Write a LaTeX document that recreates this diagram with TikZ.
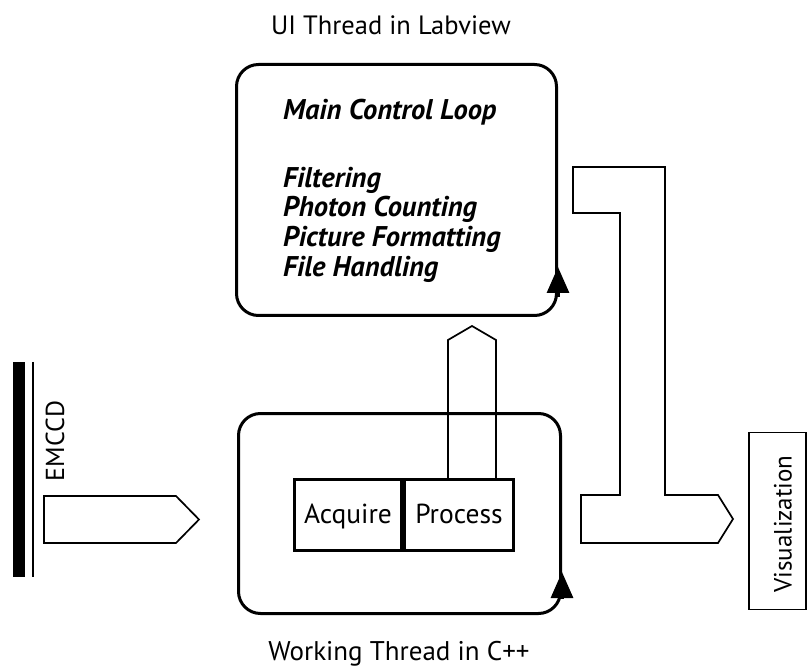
\documentclass[tikz,border=0pt]{standalone}
\usepackage{fontspec}
\setmainfont{PT Sans}
\usetikzlibrary{arrows.meta,calc}
\begin{document}
\begin{tikzpicture}[x=1pt,y=-1pt,
  txt/.style={inner sep=0pt,font=\fontsize{26}{30}\selectfont},
  itl/.style={inner sep=0pt,anchor=base west,font=\fontsize{28.5}{32}\selectfont\bfseries\itshape},
  loopbox/.style={draw,line width=3pt,rounded corners=22pt,inner sep=0pt},
  stagebox/.style={draw,line width=3pt,inner sep=0pt,minimum height=71pt,
    text height=19pt,text depth=3pt,font=\fontsize{27.5}{30}\selectfont},
  hollow/.style={draw,line width=1.7pt,line join=miter},
  looptip/.style={line width=3pt,-{Triangle[length=26pt,width=22pt]}}
]
\useasboundingbox (0,0) rectangle (809,668);

% titles
\node[txt,anchor=base,font=\fontsize{26.5}{30}\selectfont] (uititle) at (391,35) {UI Thread in Labview};
\node[txt,anchor=base,font=\fontsize{27}{30}\selectfont] (wttitle) at (399,660) {Working Thread in C++};

% UI loop
\node[loopbox,minimum width=320pt,minimum height=251pt] (ui) at (396.5,190) {};
\draw[looptip] ([yshift=20pt]ui.south east) -- ([yshift=50pt]ui.south east);
\node[itl] (mcl) at (283,120) {Main Control Loop};
\node[itl] (flt) at (283,188) {Filtering};
\node[itl] (phc) at (283,217) {Photon Counting};
\node[itl] (pfm) at (283,247) {Picture Formatting};
\node[itl] (fhd) at (283,277) {File Handling};

% working loop
\node[loopbox,minimum width=322pt,minimum height=200pt] (wt) at (399.5,513.5) {};
\draw[looptip] ([yshift=16pt]wt.south east) -- ([yshift=43pt]wt.south east);

\node[stagebox,minimum width=107pt] (acq) at (348,515) {Acquire};
\node[stagebox,minimum width=109pt] (proc) at (459,515) {Process};

% data path from Process up to the UI loop
\draw[hollow] (448,478) -- (448,340) -- (472,326) -- (496,340) -- (496,478);

% camera
\fill (13,362) rectangle (25,577);
\draw[line width=2pt] (33,362) -- (33,577);
\node[txt,rotate=90] (cam) at (55,441) {EMCCD};
\draw[hollow] (44,496) -- (176,496) -- (199,519.5) -- (176,543) -- (44,543) -- cycle;

% output path to visualization
\draw[hollow] (573,167) -- (665,167) -- (665,495) -- (718,495) -- (733,519) -- (718,543)
  -- (581,543) -- (581,495) -- (620,495) -- (620,213) -- (573,213) -- cycle;
\node[draw,line width=1.7pt,minimum width=57pt,minimum height=177pt,inner sep=0pt] (vis) at (777.5,521) {};
\node[txt,rotate=90,font=\fontsize{25}{30}\selectfont] (vislabel) at (783,524) {Visualization};
\end{tikzpicture}
\end{document}
